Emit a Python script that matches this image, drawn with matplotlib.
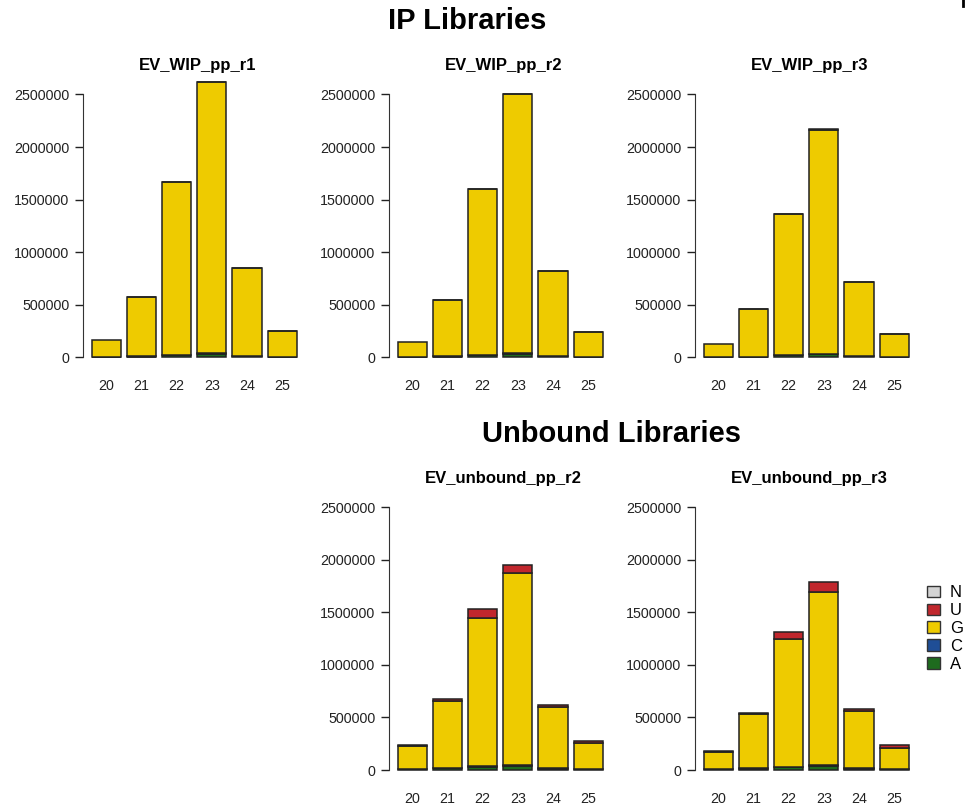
import matplotlib
matplotlib.use("Agg")
import matplotlib.pyplot as plt
import matplotlib.patches as mpatches
from matplotlib.lines import Line2D
import numpy as np

plt.rcParams["font.family"] = ["Liberation Sans", "DejaVu Sans"]

# read lengths (x categories)
lengths = ["20", "21", "22", "23", "24", "25"]
bases = ["A", "C", "G", "U", "N"]
base_colors = {"A": "#1e6b1e", "C": "#1f4e96", "G": "#eecb00",
               "U": "#c1272d", "N": "#d3d3d3"}

# IP libraries (counts per first nucleotide)
wip_r1_A = [4000, 9000, 24000, 38000, 14000, 4000]
wip_r1_C = [1000, 2000, 4000, 6000, 2000, 1000]
wip_r1_G = [159000, 564000, 1641000, 2575000, 831000, 250000]
wip_r1_U = [0, 1000, 2000, 2000, 1000, 1000]
wip_r1_N = [0, 0, 0, 0, 0, 0]

wip_r2_A = [3000, 8000, 22000, 36000, 13000, 3000]
wip_r2_C = [1000, 2000, 4000, 6000, 2000, 1000]
wip_r2_G = [144000, 533000, 1573000, 2463000, 810000, 242000]
wip_r2_U = [0, 1000, 2000, 2000, 1000, 1000]
wip_r2_N = [0, 0, 0, 0, 0, 0]

wip_r3_A = [3000, 7000, 20000, 32000, 11000, 3000]
wip_r3_C = [1000, 2000, 3000, 5000, 2000, 1000]
wip_r3_G = [129000, 455000, 1341000, 2130000, 703000, 216000]
wip_r3_U = [0, 1000, 2000, 2000, 1000, 1000]
wip_r3_N = [0, 0, 0, 0, 0, 0]

# Unbound libraries
unb_r2_A = [8000, 15000, 30000, 40000, 14000, 6000]
unb_r2_C = [2000, 4000, 8000, 10000, 4000, 2000]
unb_r2_G = [220000, 641000, 1411000, 1821000, 578000, 246000]
unb_r2_U = [11000, 13000, 80000, 80000, 22000, 25000]
unb_r2_N = [0, 0, 0, 0, 0, 0]

unb_r3_A = [6000, 13000, 26000, 36000, 12000, 5000]
unb_r3_C = [2000, 3000, 7000, 9000, 3000, 1000]
unb_r3_G = [168000, 520000, 1210000, 1646000, 547000, 201000]
unb_r3_U = [8000, 10000, 70000, 98000, 16000, 28000]
unb_r3_N = [0, 0, 0, 0, 0, 0]

yticks = [0, 500000, 1000000, 1500000, 2000000, 2500000]

W, H = 968, 805
fig = plt.figure(figsize=(W / 100, H / 100), dpi=100)


def panel(left_px, zero_px, px_per_m, title, stacks):
    ylo, yhi = -0.1e6, 2.7e6
    height_px = (yhi - ylo) / 1e6 * px_per_m
    bottom_px = zero_px + (-ylo) / 1e6 * px_per_m
    width_px = 227.8
    ax = fig.add_axes([left_px / W, 1 - bottom_px / H, width_px / W, height_px / H])
    x = 0.7 + 1.2 * np.arange(len(lengths))
    bottom = np.zeros(len(lengths))
    for b in bases:
        vals = np.array(stacks[b], dtype=float)
        keep = vals > 0
        ax.bar(x[keep], vals[keep], width=1.0, bottom=bottom[keep],
               color=base_colors[b], edgecolor="#222222", linewidth=1.1)
        bottom += vals
    ax.set_xlim(-0.088, 7.688)
    ax.set_ylim(ylo, yhi)
    for s in ("top", "right", "bottom"):
        ax.spines[s].set_visible(False)
    ax.spines["left"].set_bounds(0, 2500000)
    ax.spines["left"].set_color("#333333")
    ax.set_yticks(yticks)
    ax.set_yticklabels([str(t) for t in yticks])
    ax.set_xticks(x)
    ax.set_xticklabels(lengths)
    ax.tick_params(axis="x", length=0, pad=8, labelsize=10.3, colors="#222222")
    ax.tick_params(axis="y", length=6, width=1, pad=4, labelsize=10.3,
                   colors="#222222")
    ax.patch.set_alpha(0)
    cx = (left_px + width_px / 2) / W
    fig.text(cx, 1 - (zero_px - 292) / H, title, ha="center", va="center",
             fontsize=12, fontweight="bold")
    return ax


panel(83.3, 357.5, 105.2, "EV_WIP_pp_r1",
      dict(A=wip_r1_A, C=wip_r1_C, G=wip_r1_G, U=wip_r1_U, N=wip_r1_N))
panel(389.3, 357.5, 105.2, "EV_WIP_pp_r2",
      dict(A=wip_r2_A, C=wip_r2_C, G=wip_r2_G, U=wip_r2_U, N=wip_r2_N))
panel(695.3, 357.5, 105.2, "EV_WIP_pp_r3",
      dict(A=wip_r3_A, C=wip_r3_C, G=wip_r3_G, U=wip_r3_U, N=wip_r3_N))
panel(389.3, 770.0, 105.1, "EV_unbound_pp_r2",
      dict(A=unb_r2_A, C=unb_r2_C, G=unb_r2_G, U=unb_r2_U, N=unb_r2_N))
panel(695.3, 770.0, 105.1, "EV_unbound_pp_r3",
      dict(A=unb_r3_A, C=unb_r3_C, G=unb_r3_G, U=unb_r3_U, N=unb_r3_N))

fig.text(467 / W, 1 - 21 / H, "IP Libraries", ha="center", va="center",
         fontsize=21, fontweight="bold")
fig.text(612 / W, 1 - 434 / H, "Unbound Libraries", ha="center", va="center",
         fontsize=21, fontweight="bold")

handles = [mpatches.Patch(facecolor=base_colors[b], edgecolor="#333333",
                          linewidth=1, label=b) for b in ["N", "U", "G", "C", "A"]]
fig.legend(handles=handles, loc="upper left", bbox_to_anchor=(919 / W, 1 - 577 / H),
           frameon=False, fontsize=12, handlelength=0.75, handleheight=0.7,
           handletextpad=0.6, labelspacing=0.17, borderpad=0)

fig.add_artist(Line2D([963 / W, 963 / W], [1.0, 1 - 6 / H], color="black",
                      linewidth=2, transform=fig.transFigure))

fig.savefig("out.png", dpi=100)
